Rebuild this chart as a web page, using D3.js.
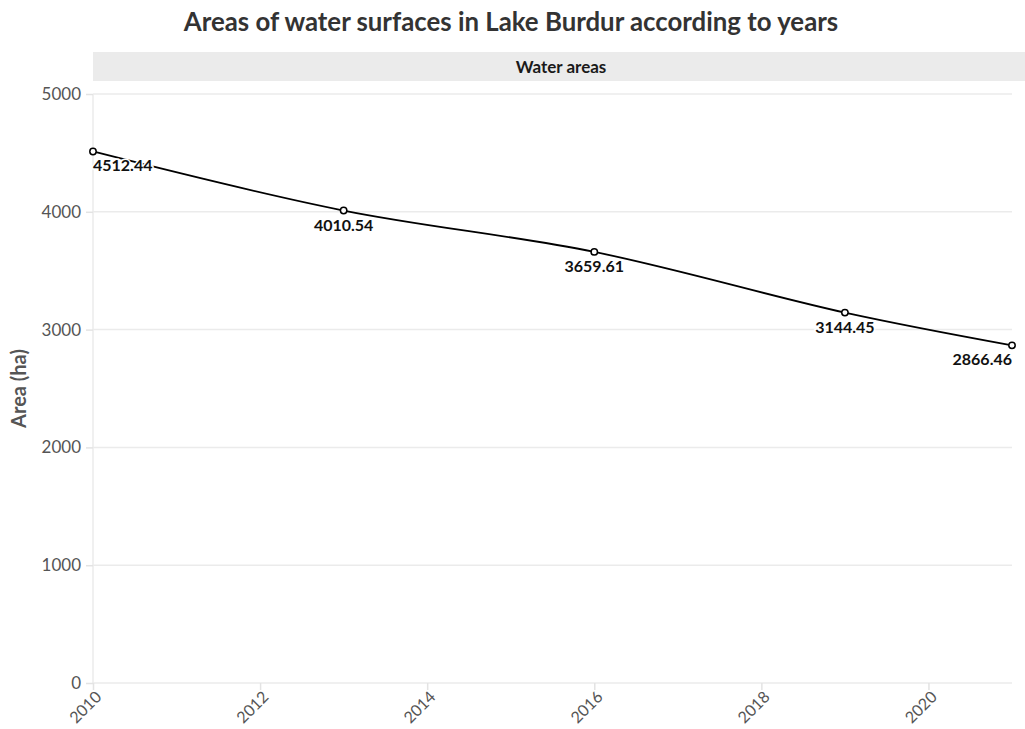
<!DOCTYPE html>
<html>
<head>
<meta charset="utf-8">
<script src="https://cdn.jsdelivr.net/npm/d3@7"></script>
<style>
  html, body { margin: 0; padding: 0; background: #fff; }
  svg { display: block; font-family: Lato, "Open Sans", sans-serif; }
</style>
</head>
<body>
<svg id="chart" width="1025" height="729"></svg>
<script>
// Lake Burdur water surface areas by survey year
const years = [2010, 2013, 2016, 2019, 2021];
const areas = [4512.44, 4010.54, 3659.61, 3144.45, 2866.46];
const yTicks = [0, 1000, 2000, 3000, 4000, 5000];
const xTicks = [2010, 2012, 2014, 2016, 2018, 2020];

const titleText = "Areas of water surfaces in Lake Burdur according to years";
const panelText = "Water areas";
const yTitle = "Area (ha)";

const svg = d3.select("#chart");
const W = 1025, H = 729;
const plot = { left: 93, right: 1012, top: 94, bottom: 683 };

const x = d3.scaleLinear().domain([2010, 2021]).range([plot.left, plot.right]);
const y = d3.scaleLinear().domain([0, 5000]).range([plot.bottom, plot.top]);

// title
svg.append("text")
  .attr("x", 511).attr("y", 31)
  .attr("text-anchor", "middle")
  .attr("font-size", 25.8).attr("font-weight", 700)
  .attr("fill", "#333")
  .text(titleText);

// facet strip
svg.append("rect")
  .attr("x", plot.left).attr("y", 52)
  .attr("width", W - plot.left).attr("height", 29)
  .attr("fill", "#ebebeb");
svg.append("text")
  .attr("x", (plot.left + W) / 2 + 2).attr("y", 72.5)
  .attr("text-anchor", "middle")
  .attr("font-size", 17).attr("font-weight", 700)
  .attr("fill", "#1a1a1a")
  .text(panelText);

// horizontal grid
const grid = svg.append("g");
grid.selectAll("line.h").data(yTicks).enter().append("line")
  .attr("x1", plot.left).attr("x2", plot.right)
  .attr("y1", d => y(d)).attr("y2", d => y(d))
  .attr("stroke", "#ebebeb").attr("stroke-width", 1.5);
// left axis line
grid.append("line")
  .attr("x1", plot.left).attr("x2", plot.left)
  .attr("y1", plot.top).attr("y2", plot.bottom)
  .attr("stroke", "#ebebeb").attr("stroke-width", 1.5);

// y axis
const yAxis = svg.append("g")
  .attr("transform", `translate(${plot.left},0)`)
  .call(d3.axisLeft(y).tickValues(yTicks).tickFormat(d3.format("d")).tickSize(7).tickPadding(5));
yAxis.select(".domain").remove();
yAxis.selectAll(".tick line").attr("stroke", "#e3e3e3").attr("stroke-width", 1.5);
yAxis.selectAll(".tick text")
  .attr("font-size", 17).attr("fill", "#555")
  .attr("font-family", "Lato, 'Open Sans', sans-serif");

// x axis
const xAxis = svg.append("g")
  .attr("transform", `translate(0,${plot.bottom})`)
  .call(d3.axisBottom(x).tickValues(xTicks).tickFormat(d3.format("d")).tickSize(7).tickPadding(4));
xAxis.select(".domain").remove();
xAxis.selectAll(".tick line").attr("stroke", "#e3e3e3").attr("stroke-width", 1.5);
xAxis.selectAll(".tick text")
  .attr("font-size", 16).attr("fill", "#555")
  .attr("font-family", "Lato, 'Open Sans', sans-serif")
  .attr("text-anchor", "end")
  .attr("x", 0).attr("y", 0).attr("dy", null)
  .attr("transform", "translate(9,15) rotate(-45)");

// y axis title
svg.append("text")
  .attr("transform", `translate(26,${(plot.top + plot.bottom) / 2}) rotate(-90)`)
  .attr("text-anchor", "middle")
  .attr("font-size", 20).attr("font-weight", 700)
  .attr("fill", "#555")
  .text(yTitle);

// data
const data = years.map((yr, i) => ({ year: yr, area: areas[i] }));

const line = d3.line()
  .x(d => x(d.year))
  .y(d => y(d.area))
  .curve(d3.curveCatmullRom.alpha(0.5));

svg.append("path")
  .datum(data)
  .attr("d", line)
  .attr("fill", "none")
  .attr("stroke", "#000")
  .attr("stroke-width", 1.8);

// value labels, kept inside the plot area
const labels = svg.append("g")
  .attr("font-size", 16).attr("font-weight", 700)
  .attr("fill", "#111");
labels.selectAll("text").data(data).enter().append("text")
  .attr("x", d => x(d.year))
  .attr("y", d => y(d.area) + 20)
  .attr("text-anchor", (d, i) => i === 0 ? "start" : (i === data.length - 1 ? "end" : "middle"))
  .attr("stroke", "#fff").attr("stroke-width", 3)
  .attr("paint-order", "stroke")
  .text(d => d.area.toFixed(2));

// points
svg.append("g").selectAll("circle").data(data).enter().append("circle")
  .attr("cx", d => x(d.year))
  .attr("cy", d => y(d.area))
  .attr("r", 3.2)
  .attr("fill", "#fff")
  .attr("stroke", "#000")
  .attr("stroke-width", 1.5);
</script>
</body>
</html>
